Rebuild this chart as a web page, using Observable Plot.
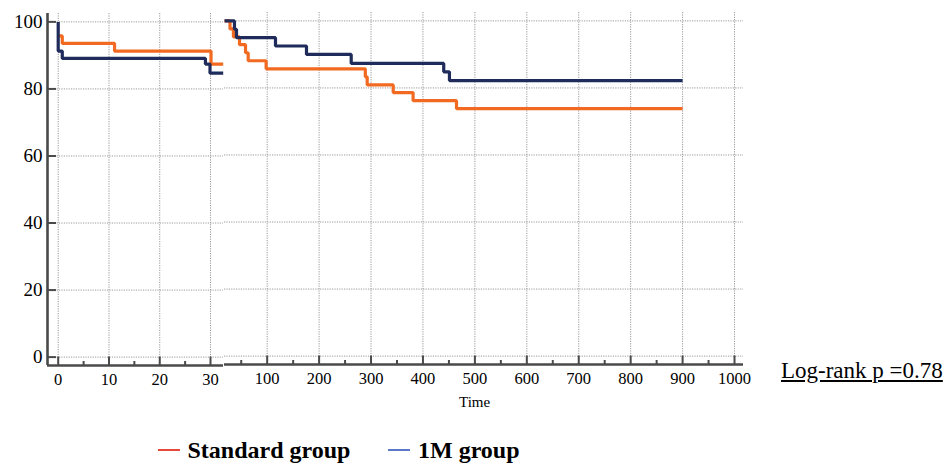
<!DOCTYPE html>
<html><head><meta charset="utf-8">
<script src="https://cdn.jsdelivr.net/npm/d3@7"></script>
<script src="https://cdn.jsdelivr.net/npm/@observablehq/plot@0.6"></script>
<style>
body{margin:0;background:#fff;}
#chart{position:relative;width:949px;height:464px;overflow:hidden;font-family:"Liberation Serif","Times New Roman",serif;color:#000;background:#fff;}
.abs{position:absolute;white-space:nowrap;line-height:1;font-family:"Liberation Serif","Times New Roman",serif;}
svg text{font-family:"Liberation Serif","Times New Roman",serif;}
</style></head><body>
<div id="chart">
 <div id="left" class="abs" style="left:0;top:0"></div>
 <div id="right" class="abs" style="left:224px;top:-1px"></div>
 <div id="xlabel" class="abs" style="left:459px;top:395px;font-size:15px"></div>
 <div id="pval" class="abs" style="left:781px;top:359px;font-size:23px;text-decoration:underline"></div>
 <div id="legend"></div>
</div>
<script>
// ---- data ----
const groups = ["Standard group", "1M group"];
const lineColors = ["#f26a21", "#1f2b5b"];
const legendColors = ["#e8473c", "#5a78c8"];
const xTitle = "Time";
const pText = "Log-rank p =0.78";

// early panel (days 0–32)
const earlyStdTime = [0, 0.8, 11.1, 30.1, 32.5];
const earlyStdSurv = [95.8, 93.6, 91.3, 87.4, 87.4];
const early1MTime  = [0, 0, 0.8, 29.0, 29.9, 32.5];
const early1MSurv  = [100, 91.3, 89.1, 87.4, 84.7, 84.7];

// late panel (landmark, days ~18–900)
const lateStdTime = [18, 28.4, 35, 46.7, 58.3, 63.4, 98, 289, 292.6, 342.7, 381, 464.6, 900];
const lateStdSurv = [100, 97.6, 95.2, 92.9, 90.5, 88.1, 85.7, 83.3, 80.9, 78.6, 76.2, 73.8, 73.8];
const late1MTime  = [18, 37, 40.9, 116, 175.7, 261.8, 440, 451, 900];
const late1MSurv  = [100, 97.5, 95.0, 92.5, 90.0, 87.3, 84.8, 82.2, 82.2];

// axes
const yTicks = [0, 20, 40, 60, 80, 100];
const yDomain = [-2.5, 102.5];
const earlyDomain = [-2.11, 32.56];
const earlyMajor = [0, 10, 20, 30];
const earlyMinor = [5, 15, 25];
const lateDomain = [17.8, 1017.3];
const lateMajor = [100, 200, 300, 400, 500, 600, 700, 800, 900, 1000];
const lateMinor = [50, 150, 250, 350, 450, 550, 650, 750, 850, 950];

// ---- build ----
const rows = (t, s, g) => t.map((d, i) => ({time: d, surv: s[i], group: g}));
const earlyRows = [...rows(earlyStdTime, earlyStdSurv, groups[0]), ...rows(early1MTime, early1MSurv, groups[1])];
const lateRows = [...rows(lateStdTime, lateStdSurv, groups[0]), ...rows(late1MTime, late1MSurv, groups[1])];

const serif = "Liberation Serif, Times New Roman, serif";
const axisColor = "#4a4a4a";
const gridOpts = {stroke: "#9a9a9a", strokeOpacity: 1, strokeDasharray: "1.2,1.2", strokeWidth: 1};
const fmt = d => String(d);

function panel({width, marginLeft, marginRight, domain, major, minor, data, showY}) {
  const marks = [
    Plot.gridX(major, gridOpts),
    Plot.gridY(yTicks, gridOpts),
    Plot.line(data, {x: "time", y: "surv", z: "group", stroke: "group", curve: "step-after",
      strokeWidth: 3.2, strokeLinejoin: "miter", strokeLinecap: "butt"}),
    Plot.axisX(minor, {tickSize: -4, tickFormat: () => "", stroke: axisColor, strokeWidth: 2, label: null}),
    Plot.axisX(major, {tickSize: -8.5, tickPadding: 16, fontSize: 16.5, fontFamily: serif, tickFormat: fmt,
      stroke: axisColor, strokeWidth: 2, label: null}),
    Plot.ruleY([yDomain[0]], {stroke: axisColor, strokeWidth: 2.6})
  ];
  if (showY) {
    marks.push(
      Plot.axisY(yTicks, {tickSize: -9, tickPadding: 14, fontSize: 19, fontFamily: serif, tickFormat: fmt,
        stroke: axisColor, strokeWidth: 2, label: null}),
      Plot.ruleX([domain[0]], {stroke: axisColor, strokeWidth: 2.6})
    );
  }
  return Plot.plot({
    width, height: 395,
    marginLeft, marginRight, marginTop: 13, marginBottom: 30,
    style: {"font-family": serif, "background": "transparent", "overflow": "visible", "max-width": "none"},
    x: {domain, axis: null, label: null},
    y: {domain: yDomain, axis: null, label: null},
    color: {domain: groups, range: lineColors},
    marks
  });
}

document.getElementById("left").append(panel({
  width: 224, marginLeft: 47, marginRight: 1, domain: earlyDomain,
  major: earlyMajor, minor: earlyMinor, data: earlyRows, showY: true
}));
document.getElementById("right").append(panel({
  width: 725, marginLeft: 0, marginRight: 206, domain: lateDomain,
  major: lateMajor, minor: lateMinor, data: lateRows, showY: false
}));

document.getElementById("xlabel").textContent = xTitle;
document.getElementById("pval").textContent = pText;

// legend
const legendPos = [{dash: 158, text: 187.5}, {dash: 388, text: 418}];
const legend = document.getElementById("legend");
groups.forEach((g, i) => {
  const dash = document.createElement("div");
  dash.className = "abs";
  dash.style.cssText += `left:${legendPos[i].dash}px;top:449px;width:22px;height:2px;background:${legendColors[i]};`;
  legend.append(dash);
  const t = document.createElement("div");
  t.className = "abs";
  t.style.cssText += `left:${legendPos[i].text}px;top:438px;font-size:24px;font-weight:bold;`;
  t.textContent = g;
  legend.append(t);
});
</script>
</body></html>
